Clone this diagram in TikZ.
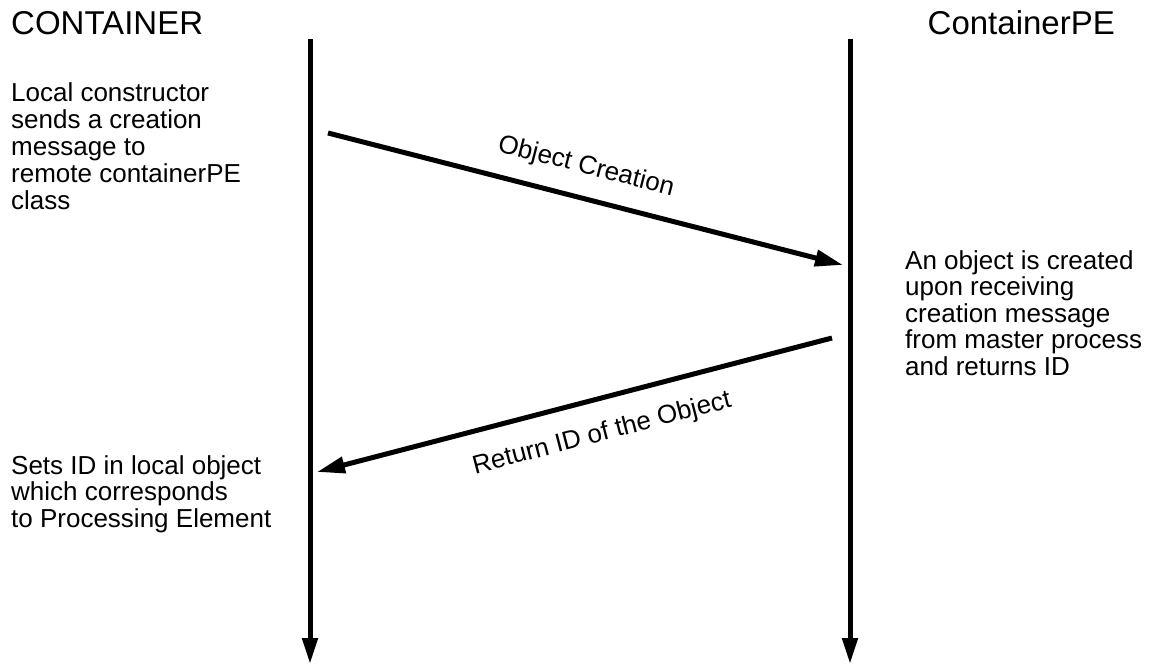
\documentclass[tikz,border=0pt]{standalone}
\usepackage{fontspec}
\setmainfont{Liberation Sans}
\usetikzlibrary{arrows.meta}
\newcommand\txtlines[2]{\vtop{\baselineskip=#1\lineskiplimit=-100pt\halign{##\hfil\cr#2\crcr}}}
\begin{document}
\begin{tikzpicture}[x=1pt,y=-1pt,
  lifeline/.style={line width=5pt,-{Triangle[length=26pt,width=15pt]}},
  msg/.style={line width=5pt,-{Triangle[length=28pt,width=16pt]}},
  title/.style={font=\fontsize{33}{33}\selectfont,inner sep=0pt},
  note/.style={font=\fontsize{26}{27}\selectfont,inner sep=0pt,anchor=base west},
  msglabel/.style={font=\fontsize{26}{27}\selectfont,inner sep=0pt}]
\useasboundingbox (0,0) rectangle (1153,664);
\node[title,anchor=base west] (t1) at (11,34) {CONTAINER};
\node[title,anchor=base east] (t2) at (1115,34) {ContainerPE};
\coordinate (ltop) at (310,39);
\coordinate (lbot) at (310,664);
\coordinate (rtop) at (850,39);
\coordinate (rbot) at (850,664);
\draw[lifeline] (ltop) -- (lbot);
\draw[lifeline] (rtop) -- (rbot);
\coordinate (m1s) at (328,133);
\coordinate (m1e) at (843,265);
\draw[msg] (m1s) -- (m1e);
\node[msglabel,rotate=-14.4] (l1) at (586,167) {Object Creation};
\coordinate (m2s) at (832,338);
\coordinate (m2e) at (317,472);
\draw[msg] (m2s) -- (m2e);
\node[msglabel,rotate=14.6] (l2) at (602,434) {Return ID of the Object};
\node[note] (n1) at (11,101) {\txtlines{27pt}{Local constructor\cr sends a creation\cr message to\cr remote containerPE\cr class}};
\node[note] (n2) at (905,269) {\txtlines{26.5pt}{An object is created\cr upon receiving\cr creation message\cr from master process\cr and returns ID}};
\node[note] (n3) at (11,474) {\txtlines{26.5pt}{Sets ID in local object\cr which corresponds\cr to Processing Element}};
\end{tikzpicture}
\end{document}
